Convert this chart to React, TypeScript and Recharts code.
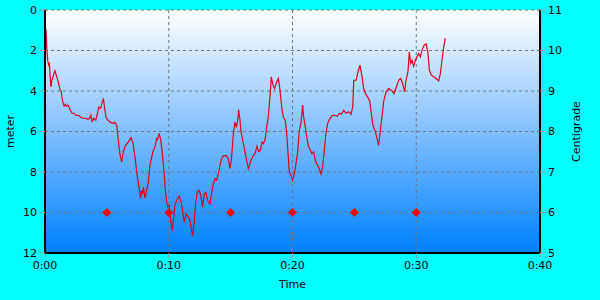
import React from "react";
import {
  ComposedChart,
  Line,
  Scatter,
  XAxis,
  YAxis,
  CartesianGrid,
} from "recharts";

// dive profile: minutes since start -> depth in metres
const time = [
  0.08, 0.15, 0.22, 0.3, 0.35, 0.42, 0.48, 0.55, 0.65, 0.8, 0.9, 1.05, 1.2, 1.3, 1.42, 1.55, 1.65, 1.75,
  1.85, 1.95, 2.05, 2.2, 2.35, 2.5, 2.7, 2.9, 3.1, 3.3, 3.45, 3.6, 3.7, 3.8, 3.95, 4.1, 4.2, 4.35, 4.5,
  4.6, 4.72, 4.82, 4.93, 5.1, 5.3, 5.5, 5.65, 5.8, 5.9, 6.05, 6.2, 6.33, 6.5, 6.75, 6.95, 7.12, 7.3,
  7.45, 7.6, 7.72, 7.8, 7.88, 7.95, 8.08, 8.22, 8.35, 8.48, 8.62, 8.75, 8.89, 9.02, 9.1, 9.21, 9.35,
  9.51, 9.64, 9.78, 9.91, 10.04, 10.16, 10.29, 10.37, 10.5, 10.69, 10.85, 11.0, 11.12, 11.26, 11.39,
  11.58, 11.72, 11.85, 11.93, 12.04, 12.17, 12.3, 12.44, 12.57, 12.74, 12.87, 13.0, 13.14, 13.33,
  13.47, 13.6, 13.74, 13.87, 14.0, 14.14, 14.27, 14.41, 14.63, 14.81, 14.95, 15.08, 15.22, 15.35,
  15.45, 15.57, 15.65, 15.76, 15.84, 16.03, 16.24, 16.43, 16.65, 16.84, 16.97, 17.13, 17.26, 17.4,
  17.54, 17.66, 17.8, 17.91, 18.04, 18.18, 18.29, 18.42, 18.55, 18.69, 18.86, 18.99, 19.12, 19.26,
  19.42, 19.53, 19.66, 19.74, 19.87, 20.01, 20.15, 20.28, 20.42, 20.55, 20.68, 20.82, 20.9, 21.04,
  21.17, 21.31, 21.44, 21.57, 21.71, 21.84, 21.98, 22.11, 22.3, 22.43, 22.57, 22.7, 22.84, 23.03,
  23.24, 23.4, 23.6, 23.8, 23.95, 24.14, 24.33, 24.54, 24.73, 24.87, 24.95, 25.14, 25.3, 25.45, 25.6,
  25.75, 25.9, 26.1, 26.24, 26.37, 26.5, 26.7, 26.83, 26.96, 27.1, 27.23, 27.37, 27.56, 27.77, 27.99,
  28.2, 28.39, 28.58, 28.74, 28.9, 29.06, 29.17, 29.33, 29.44, 29.55, 29.66, 29.79, 29.93, 30.06,
  30.19, 30.33, 30.46, 30.65, 30.81, 30.95, 31.06, 31.22, 31.41, 31.6, 31.81, 31.95, 32.08, 32.22,
  32.35,
];
const depth = [
  0.95, 1.9, 2.5, 2.7, 2.6, 3.3, 3.8, 3.5, 3.3, 3.0, 3.2, 3.5, 3.9, 4.0, 4.5, 4.75, 4.65, 4.75, 4.7,
  4.8, 4.95, 5.1, 5.1, 5.2, 5.2, 5.3, 5.35, 5.35, 5.4, 5.35, 5.2, 5.5, 5.35, 5.45, 5.2, 4.8, 4.85, 4.6,
  4.37, 4.85, 5.3, 5.45, 5.55, 5.6, 5.55, 5.7, 6.3, 7.1, 7.5, 7.0, 6.7, 6.5, 6.3, 6.6, 7.4, 8.2, 8.75,
  9.3, 8.9, 9.1, 8.75, 9.3, 8.9, 8.5, 7.67, 7.26, 6.93, 6.77, 6.35, 6.4, 6.1, 6.4, 7.26, 8.25, 9.24,
  9.73, 9.65, 10.4, 10.9, 10.4, 9.65, 9.32, 9.2, 9.5, 9.9, 10.5, 10.07, 10.2, 10.4, 10.9, 11.14, 10.56,
  9.57, 9.0, 8.9, 9.1, 9.73, 9.1, 9.0, 9.4, 9.57, 9.0, 8.58, 8.33, 8.4, 8.1, 7.67, 7.34, 7.2, 7.18,
  7.34, 7.84, 7.26, 6.1, 5.53, 5.8, 5.45, 4.92, 5.45, 6.02, 6.6, 7.26, 7.84, 7.43, 7.18, 7.1, 6.73,
  7.0, 6.93, 6.52, 6.6, 6.35, 5.78, 5.28, 4.29, 3.3, 3.7, 3.88, 3.6, 3.38, 3.96, 4.78, 5.28, 5.45,
  6.1, 7.26, 8.0, 8.17, 8.42, 8.1, 7.6, 7.0, 5.94, 5.6, 4.7, 5.28, 5.78, 6.35, 6.77, 6.93, 7.1, 7.0,
  7.43, 7.6, 7.76, 8.1, 7.76, 6.93, 6.1, 5.6, 5.36, 5.2, 5.2, 5.25, 5.1, 5.15, 4.95, 5.1, 5.03, 5.15,
  4.78, 3.47, 3.47, 3.05, 2.72, 3.22, 3.88, 4.13, 4.32, 4.5, 5.1, 5.7, 6.02, 6.35, 6.68, 5.94, 5.28,
  4.5, 4.04, 3.88, 3.96, 4.13, 3.8, 3.47, 3.38, 3.63, 4.04, 3.47, 3.05, 2.06, 2.64, 2.48, 2.77, 2.48,
  2.31, 2.15, 2.31, 1.98, 1.73, 1.68, 2.15, 2.97, 3.22, 3.3, 3.38, 3.5, 3.14, 2.48, 1.82, 1.4,
];

// marker points
const markerTime = [5, 10, 15, 20, 25, 30];
const markerDepth = [10, 10, 10, 10, 10, 10];

const timeTicks = [0, 10, 20, 30, 40];
const meterTicks = [0, 2, 4, 6, 8, 10, 12];
const tempTicks = [5, 6, 7, 8, 9, 10, 11];

const profile = time.map((t, i) => ({ t, m: depth[i] }));
const markers = markerTime.map((t, i) => ({ t, m: markerDepth[i] }));

const font = "'DejaVu Sans', sans-serif";
const tickStyle = { fill: "#000", fontSize: 11, fontFamily: font };

const fmtTime = (v: number) => `0:${v < 10 ? "0" + v : v}`;

const Diamond = (props: any) => {
  const { cx, cy } = props;
  const r = 4.5;
  return (
    <polygon
      points={`${cx},${cy - r} ${cx + r},${cy} ${cx},${cy + r} ${cx - r},${cy}`}
      fill="#ff0000"
    />
  );
};

const sideLabel = (text: string, dx: number) => (p: any) => {
  const x = p.viewBox.x + dx;
  const y = p.viewBox.y + p.viewBox.height / 2;
  return (
    <text
      x={x}
      y={y}
      transform={`rotate(-90 ${x} ${y})`}
      textAnchor="middle"
      dominantBaseline="central"
      fontSize={11}
      fontFamily={font}
    >
      {text}
    </text>
  );
};

export default function App() {
  return (
    <div
      style={{
        position: "absolute",
        left: 0,
        top: 0,
        width: 600,
        height: 300,
        background: "#00ffff",
      }}
    >
      <ComposedChart
        width={600}
        height={300}
        margin={{ top: 10, right: 0, left: 0, bottom: 0 }}
      >
        <defs>
          <linearGradient id="bg" x1="0" y1="0" x2="0" y2="1">
            <stop offset="0%" stopColor="#ffffff" />
            <stop offset="100%" stopColor="#0080ff" />
          </linearGradient>
        </defs>
        <CartesianGrid
          yAxisId="m"
          fill="url(#bg)"
          fillOpacity={1}
          stroke="#6f7480"
          strokeDasharray="3 3"
        />
        <XAxis
          dataKey="t"
          type="number"
          domain={[0, 40]}
          ticks={timeTicks}
          tickFormatter={fmtTime}
          height={47}
          tick={tickStyle}
          tickMargin={3}
          tickSize={5}
          tickLine={{ stroke: "#999" }}
          axisLine={{ stroke: "#000", strokeWidth: 2 }}
          label={(p: any) => (
            <text
              x={p.viewBox.x + p.viewBox.width / 2}
              y={p.viewBox.y + 31}
              textAnchor="middle"
              dominantBaseline="central"
              fontSize={11}
              fontFamily={font}
            >
              Time
            </text>
          )}
        />
        <XAxis
          xAxisId="top"
          dataKey="t"
          type="number"
          domain={[0, 40]}
          orientation="top"
          height={0}
          tick={false}
          tickLine={false}
          axisLine={{ stroke: "#000", strokeWidth: 1 }}
        />
        <YAxis
          yAxisId="m"
          domain={[0, 12]}
          reversed
          ticks={meterTicks}
          width={45}
          tick={tickStyle}
          tickSize={5}
          tickMargin={3}
          tickLine={{ stroke: "#999" }}
          axisLine={{ stroke: "#000", strokeWidth: 2 }}
          label={sideLabel("meter", 10)}
        />
        <YAxis
          yAxisId="c"
          orientation="right"
          type="number"
          domain={[5, 11]}
          allowDataOverflow
          ticks={tempTicks}
          width={60}
          tick={tickStyle}
          tickSize={5}
          tickMargin={3}
          tickLine={{ stroke: "#999" }}
          axisLine={{ stroke: "#000", strokeWidth: 2 }}
          label={sideLabel("Centigrade", 36)}
        />
        {/* no temperature samples; series only anchors the right axis */}
        <Line
          yAxisId="c"
          data={profile}
          dataKey="temp"
          stroke="none"
          dot={false}
          legendType="none"
          isAnimationActive={false}
        />
        <Line
          yAxisId="m"
          data={profile}
          dataKey="m"
          stroke="#e0001b"
          strokeWidth={1.2}
          dot={false}
          isAnimationActive={false}
        />
        <Scatter
          yAxisId="m"
          data={markers}
          dataKey="m"
          shape={Diamond}
          isAnimationActive={false}
        />
      </ComposedChart>
    </div>
  );
}
